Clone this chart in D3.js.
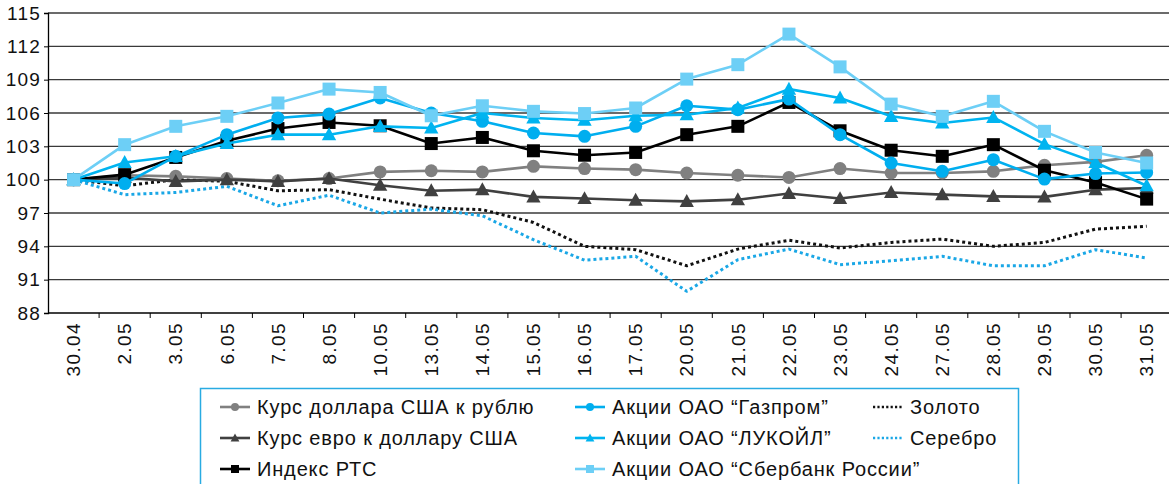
<!DOCTYPE html>
<html>
<head>
<meta charset="utf-8">
<script src="https://cdn.jsdelivr.net/npm/d3@7/dist/d3.min.js"></script>
<style>
  html, body { margin:0; padding:0; background:#fff; overflow:hidden; }
  svg { display:block; font-family:"Liberation Sans", Arial, sans-serif; }
</style>
</head>
<body>
<svg id="chart" width="1169" height="484"></svg>
<script>
// dates on the x axis
const dates = ["30.04","2.05","3.05","6.05","7.05","8.05","10.05","13.05","14.05","15.05","16.05",
  "17.05","20.05","21.05","22.05","23.05","24.05","27.05","28.05","29.05","30.05","31.05"];

const yTicks = [88, 91, 94, 97, 100, 103, 106, 109, 112, 115];

// series values (index, 30.04 = 100)
const usdRub   = [100,100.4,100.3,100.1,99.9,100.1,100.7,100.8,100.7,101.2,101.0,100.9,100.6,100.4,100.2,101.0,100.6,100.6,100.75,101.3,101.6,102.2];
const eurUsd   = [100,100.2,99.85,100.0,99.85,100.1,99.5,99.0,99.1,98.45,98.3,98.15,98.05,98.2,98.75,98.3,98.85,98.65,98.5,98.45,99.1,99.25];
const rts      = [100,100.45,102.0,103.5,104.6,105.15,104.85,103.25,103.8,102.6,102.2,102.45,104.05,104.8,106.95,104.4,102.65,102.1,103.15,100.85,99.75,98.25];
const gazprom  = [100,99.65,102.1,104.05,105.55,105.9,107.35,106.0,105.25,104.2,103.9,104.8,106.65,106.3,107.25,104.05,101.5,100.75,101.8,100.05,100.55,100.65];
const lukoil   = [100,101.55,102.1,103.25,104.05,104.05,104.8,104.65,106.0,105.55,105.35,105.75,105.85,106.45,108.15,107.35,105.7,105.1,105.6,103.2,101.55,99.45];
const sber     = [100,103.15,104.8,105.7,106.9,108.15,107.85,105.75,106.65,106.15,105.95,106.45,109.05,110.35,113.1,110.15,106.8,105.7,107.05,104.35,102.45,101.5];
const gold     = [100,99.45,100.0,99.85,99.0,99.1,98.25,97.45,97.3,96.15,94.0,93.7,92.25,93.75,94.55,93.85,94.35,94.65,94.0,94.35,95.55,95.8];
const silver   = [100,98.65,98.85,99.4,97.65,98.6,97.0,97.35,96.75,94.6,92.75,93.1,89.95,92.8,93.75,92.35,92.7,93.1,92.25,92.25,93.7,92.95];

const series = [
  {name:"Курс доллара США к рублю",        values:usdRub,  color:"#808080", marker:"circle"},
  {name:"Курс евро к доллару США",         values:eurUsd,  color:"#404040", marker:"triangle"},
  {name:"Индекс РТС",                      values:rts,     color:"#000000", marker:"square"},
  {name:"Акции ОАО “Газпром”",             values:gazprom, color:"#00aeef", marker:"circle"},
  {name:"Акции ОАО “ЛУКОЙЛ”",              values:lukoil,  color:"#00b4f0", marker:"triangle"},
  {name:"Акции ОАО “Сбербанк России”",     values:sber,    color:"#6dcff6", marker:"square"},
  {name:"Золото",                          values:gold,    color:"#111111", marker:null, dotted:true},
  {name:"Серебро",                         values:silver,  color:"#1aa7e6", marker:null, dotted:true}
];

const svg = d3.select("#chart");
const plotLeft = 48, plotTop = 13, plotBottom = 313, step = 51.1;

const x = d3.scaleBand()
  .domain(dates)
  .range([plotLeft, plotLeft + step * dates.length])
  .paddingInner(0).paddingOuter(0);

const y = d3.scaleLinear().domain([88, 115]).range([plotBottom, plotTop]);

const cx = d => x(d) + x.bandwidth() / 2;

// gridlines
svg.append("g")
  .selectAll("line")
  .data(yTicks.filter(t => t !== 88))
  .join("line")
  .attr("x1", plotLeft).attr("x2", 1169)
  .attr("y1", d => y(d)).attr("y2", d => y(d))
  .attr("stroke", "#3a3a3a")
  .attr("stroke-width", 1.4);

// y axis
const yAxis = svg.append("g")
  .attr("transform", `translate(${plotLeft},0)`)
  .call(d3.axisLeft(y).tickValues(yTicks).tickSize(4).tickPadding(3));
yAxis.select(".domain").attr("stroke", "#000").attr("stroke-width", 1.3);
yAxis.selectAll(".tick line").attr("stroke", "#000");
yAxis.selectAll("text")
  .style("font-size", "19px")
  .style("letter-spacing", "1.2px")
  .attr("fill", "#111")
  .attr("font-family", "Liberation Sans, Arial, sans-serif");

// x axis
const xAxis = svg.append("g")
  .attr("transform", `translate(0,${plotBottom})`)
  .call(d3.axisBottom(x).tickSize(0).tickSizeOuter(0));
xAxis.select(".domain").attr("stroke", "#000").attr("stroke-width", 1.4)
  .attr("d", `M${plotLeft},0H1169`);
xAxis.selectAll("text")
  .attr("transform", "rotate(-90)")
  .attr("x", -9).attr("y", 0).attr("dy", "0.35em")
  .style("text-anchor", "end")
  .style("font-size", "19px")
  .style("letter-spacing", "1.4px")
  .attr("fill", "#111")
  .attr("font-family", "Liberation Sans, Arial, sans-serif");

// x tick marks on band boundaries
svg.append("g")
  .selectAll("line")
  .data(dates)
  .join("line")
  .attr("x1", d => x(d) + x.bandwidth()).attr("x2", d => x(d) + x.bandwidth())
  .attr("y1", plotBottom).attr("y2", plotBottom + 5)
  .attr("stroke", "#000").attr("stroke-width", 1);

const line = d3.line()
  .x((v, i) => cx(dates[i]))
  .y(v => y(v));

function drawMarker(g, type, color, size) {
  if (type === "circle") {
    g.append("circle").attr("r", size * 0.5).attr("fill", color);
  } else if (type === "square") {
    g.append("rect")
      .attr("x", -size / 2).attr("y", -size / 2)
      .attr("width", size).attr("height", size)
      .attr("fill", color);
  } else if (type === "triangle") {
    const h = size * 0.95;
    g.append("path")
      .attr("d", `M0,${-h * 0.6}L${size * 0.55},${h * 0.45}L${-size * 0.55},${h * 0.45}Z`)
      .attr("fill", color);
  }
}

// draw dotted series first, then the marked ones
const order = [6, 7, 0, 1, 2, 3, 4, 5];
order.forEach(idx => {
  const s = series[idx];
  const g = svg.append("g");
  g.append("path")
    .datum(s.values)
    .attr("d", line)
    .attr("fill", "none")
    .attr("stroke", s.color)
    .attr("stroke-width", s.dotted ? 3 : 2.6)
    .attr("stroke-dasharray", s.dotted ? "3,3" : null)
    .attr("stroke-linejoin", "round");
  if (s.marker) {
    s.values.forEach((v, i) => {
      const m = g.append("g").attr("transform", `translate(${cx(dates[i])},${y(v)})`);
      drawMarker(m, s.marker, s.color, 13);
    });
  }
});

// legend
svg.append("rect")
  .attr("x", 200.5).attr("y", 388.5)
  .attr("width", 818).attr("height", 130)
  .attr("fill", "none")
  .attr("stroke", "#29abe2")
  .attr("stroke-width", 1.5);

const legendPos = [
  [220, 407], [220, 438], [220, 469],
  [575, 407], [575, 438], [575, 469],
  [873, 407], [873, 438]
];

series.forEach((s, i) => {
  const [lx, ly] = legendPos[i];
  const g = svg.append("g").attr("transform", `translate(${lx},${ly})`);
  g.append("line")
    .attr("x1", 0).attr("x2", 30)
    .attr("y1", 0).attr("y2", 0)
    .attr("stroke", s.color)
    .attr("stroke-width", s.dotted ? 2.5 : 2.6)
    .attr("stroke-dasharray", s.dotted ? "2.2,2.2" : null);
  if (s.marker) {
    const m = g.append("g").attr("transform", "translate(15,0)");
    drawMarker(m, s.marker, s.color, 8);
  }
  g.append("text")
    .attr("x", 37)
    .attr("y", 0).attr("dy", "0.36em")
    .style("font-size", "20px")
    .style("letter-spacing", "0.85px")
    .attr("fill", "#111")
    .text(s.name);
});
</script>
</body>
</html>
